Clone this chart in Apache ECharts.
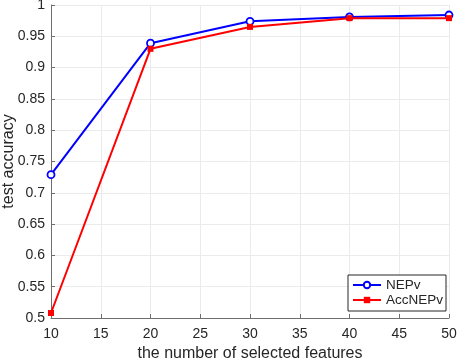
<!DOCTYPE html>
<html>
<head>
<meta charset="utf-8">
<script src="https://cdn.jsdelivr.net/npm/echarts@6/dist/echarts.min.js"></script>
<style>
  html, body { margin: 0; padding: 0; background: #fff; }
  #chart { width: 458px; height: 359px; }
</style>
</head>
<body>
<div id="chart"></div>
<script>
// values
const features = [10, 20, 30, 40, 50];
const nepv = [0.729, 0.939, 0.974, 0.981, 0.984];
const accNepv = [0.508, 0.930, 0.965, 0.979, 0.979];

const font = "Liberation Sans";
const axisColor = "#6e6e6e";
const textColor = "#262626";

const chart = echarts.init(document.getElementById("chart"));

chart.setOption({
  animation: false,
  textStyle: { fontFamily: font },
  grid: {
    left: 51,
    right: 9,
    top: 5,
    bottom: 41,
    containLabel: false,
    outerBoundsMode: "none",
  },
  legend: {
    left: 348,
    top: 275,
    orient: "vertical",
    itemGap: 1,
    itemWidth: 28,
    itemHeight: 8,
    padding: [3, 3, 4, 4],
    backgroundColor: "#fff",
    borderColor: "#262626",
    borderWidth: 1,
    borderRadius: 0,
    textStyle: { fontFamily: font, fontSize: 13.5, color: textColor },
    data: ["NEPv", "AccNEPv"],
  },
  xAxis: {
    type: "value",
    min: 10,
    max: 50,
    interval: 5,
    name: "the number of selected features",
    nameLocation: "middle",
    nameGap: 26,
    nameTextStyle: { fontSize: 16, color: textColor, fontFamily: font },
    axisLine: { lineStyle: { color: axisColor, width: 1 } },
    axisTick: { inside: true, length: 4, lineStyle: { color: axisColor } },
    axisLabel: { fontSize: 14, color: textColor, margin: 9 },
    splitLine: { show: true, lineStyle: { color: "#ebebeb", width: 1 } },
  },
  yAxis: {
    type: "value",
    min: 0.5,
    max: 1,
    interval: 0.05,
    name: "test accuracy",
    nameLocation: "middle",
    nameGap: 34,
    nameMoveOverlap: false,
    nameTextStyle: { fontSize: 16, color: textColor, fontFamily: font },
    axisLine: { show: true, lineStyle: { color: axisColor, width: 1 } },
    axisTick: { show: true, inside: true, length: 4, lineStyle: { color: axisColor } },
    axisLabel: {
      fontSize: 14,
      color: textColor,
      margin: 6,
      formatter: (v) => String(parseFloat(v.toFixed(2))),
    },
    splitLine: { show: true, lineStyle: { color: "#ebebeb", width: 1 } },
  },
  series: [
    {
      name: "NEPv",
      type: "line",
      data: features.map((f, i) => [f, nepv[i]]),
      lineStyle: { width: 2, color: "#0000ff" },
      symbol: "circle",
      symbolSize: 7,
      itemStyle: { color: "#fff", borderColor: "#0000ff", borderWidth: 1.8 },
      z: 3,
    },
    {
      name: "AccNEPv",
      type: "line",
      data: features.map((f, i) => [f, accNepv[i]]),
      lineStyle: { width: 2, color: "#ff0000" },
      symbol: "rect",
      symbolSize: 6,
      itemStyle: { color: "#ff0000" },
      z: 4,
    },
  ],
});
</script>
</body>
</html>
